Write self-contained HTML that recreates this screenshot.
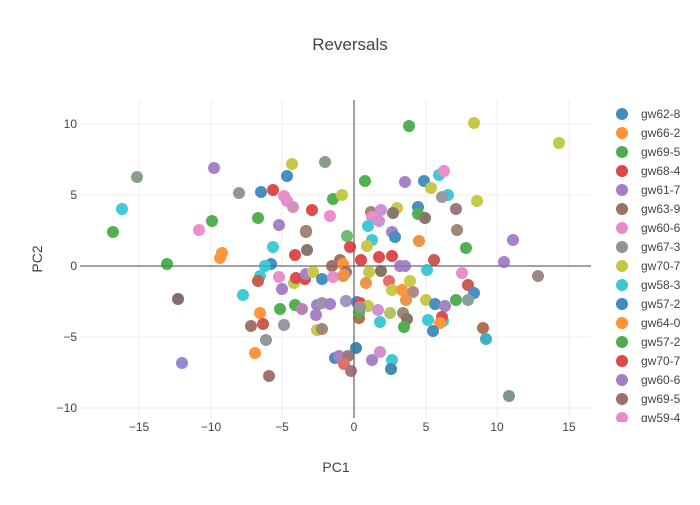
<!DOCTYPE html>
<html><head><style>
body{margin:0;background:#fff;font-family:"Liberation Sans",sans-serif;}
svg text{font-family:"Liberation Sans",sans-serif;}
</style></head><body>
<svg width="700" height="500" xmlns="http://www.w3.org/2000/svg">
<rect width="700" height="500" fill="#fff"/>
<g stroke="#eee" stroke-width="1">
<line x1="139" y1="100" x2="139" y2="418"/><line x1="211" y1="100" x2="211" y2="418"/>
<line x1="282" y1="100" x2="282" y2="418"/><line x1="426" y1="100" x2="426" y2="418"/>
<line x1="497" y1="100" x2="497" y2="418"/><line x1="569" y1="100" x2="569" y2="418"/>
<line x1="80" y1="124" x2="591" y2="124"/><line x1="80" y1="195" x2="591" y2="195"/>
<line x1="80" y1="337" x2="591" y2="337"/><line x1="80" y1="408" x2="591" y2="408"/>
</g>
<line x1="80" y1="266" x2="591" y2="266" stroke="#444" stroke-width="1"/>
<line x1="354" y1="100" x2="354" y2="418" stroke="#444" stroke-width="1"/>
<g opacity="0.82">
<circle cx="137" cy="177" r="6" fill="#6e8a6e"/><circle cx="122" cy="209" r="6" fill="#17becf"/>
<circle cx="113" cy="232" r="6" fill="#2ca02c"/><circle cx="214" cy="168" r="6" fill="#9467bd"/>
<circle cx="239" cy="193" r="6" fill="#7f7f7f"/><circle cx="261" cy="192" r="6" fill="#1f77b4"/>
<circle cx="273" cy="190" r="6" fill="#d62728"/><circle cx="284" cy="196" r="6" fill="#e377c2"/>
<circle cx="287" cy="201" r="6" fill="#e377c2"/><circle cx="293" cy="207" r="6" fill="#c87ab0"/>
<circle cx="312" cy="210" r="6" fill="#d62728"/><circle cx="330" cy="216" r="6" fill="#e377c2"/>
<circle cx="292" cy="164" r="6" fill="#bcbd22"/><circle cx="287" cy="176" r="6" fill="#1f77b4"/>
<circle cx="325" cy="162" r="6" fill="#6e8a6e"/><circle cx="333" cy="199" r="6" fill="#2ca02c"/>
<circle cx="342" cy="195" r="6" fill="#bcbd22"/><circle cx="212" cy="221" r="6" fill="#2ca02c"/>
<circle cx="199" cy="230" r="6" fill="#e377c2"/><circle cx="258" cy="218" r="6" fill="#2ca02c"/>
<circle cx="279" cy="225" r="6" fill="#9467bd"/><circle cx="306" cy="231" r="6" fill="#d62728"/>
<circle cx="306" cy="232" r="6" fill="#8c6d5a"/><circle cx="347" cy="236" r="6" fill="#4caf50"/>
<circle cx="350" cy="247" r="6" fill="#d62728"/><circle cx="307" cy="250" r="6" fill="#6d5a50"/>
<circle cx="295" cy="255" r="6" fill="#d62728"/><circle cx="273" cy="247" r="6" fill="#17becf"/>
<circle cx="167" cy="264" r="6" fill="#2ca02c"/><circle cx="222" cy="253" r="6" fill="#ff7f0e"/>
<circle cx="220" cy="258" r="6" fill="#ff7f0e"/><circle cx="271" cy="264" r="6" fill="#1f77b4"/>
<circle cx="265" cy="266" r="6" fill="#17becf"/><circle cx="340" cy="260" r="6" fill="#8c564b"/>
<circle cx="332" cy="266" r="6" fill="#8c564b"/><circle cx="343" cy="264" r="6" fill="#ff7f0e"/>
<circle cx="409" cy="126" r="6" fill="#2ca02c"/><circle cx="474" cy="123" r="6" fill="#bcbd22"/>
<circle cx="559" cy="143" r="6" fill="#bcbd22"/><circle cx="365" cy="181" r="6" fill="#2ca02c"/>
<circle cx="405" cy="182" r="6" fill="#9467bd"/><circle cx="439" cy="175" r="6" fill="#17becf"/>
<circle cx="424" cy="181" r="6" fill="#1f77b4"/><circle cx="444" cy="171" r="6" fill="#e377c2"/>
<circle cx="431" cy="188" r="6" fill="#bcbd22"/><circle cx="448" cy="195" r="6" fill="#17becf"/>
<circle cx="442" cy="197" r="6" fill="#8a8090"/><circle cx="477" cy="201" r="6" fill="#bcbd22"/>
<circle cx="397" cy="208" r="6" fill="#bcbd22"/><circle cx="371" cy="212" r="6" fill="#8c6d5a"/>
<circle cx="381" cy="210" r="6" fill="#c87ac8"/><circle cx="393" cy="213" r="6" fill="#6d5a50"/>
<circle cx="418" cy="207" r="6" fill="#1f77b4"/><circle cx="418" cy="214" r="6" fill="#2ca02c"/>
<circle cx="372" cy="217" r="6" fill="#e377c2"/><circle cx="379" cy="221" r="6" fill="#c87ac8"/>
<circle cx="425" cy="218" r="6" fill="#6d5a50"/><circle cx="456" cy="209" r="6" fill="#8c5a60"/>
<circle cx="368" cy="226" r="6" fill="#17becf"/><circle cx="392" cy="232" r="6" fill="#9467bd"/>
<circle cx="395" cy="237" r="6" fill="#1f77b4"/><circle cx="457" cy="230" r="6" fill="#8c6d5a"/>
<circle cx="372" cy="240" r="6" fill="#17becf"/><circle cx="367" cy="246" r="6" fill="#bcbd22"/>
<circle cx="419" cy="241" r="6" fill="#e67e22"/><circle cx="466" cy="248" r="6" fill="#2ca02c"/>
<circle cx="513" cy="240" r="6" fill="#9467bd"/><circle cx="379" cy="257" r="6" fill="#d62728"/>
<circle cx="392" cy="256" r="6" fill="#d62728"/><circle cx="361" cy="260" r="6" fill="#d62728"/>
<circle cx="434" cy="260" r="6" fill="#c0392b"/><circle cx="504" cy="262" r="6" fill="#9467bd"/>
<circle cx="400" cy="266" r="6" fill="#9467bd"/><circle cx="405" cy="266" r="6" fill="#9467bd"/>
<circle cx="260" cy="276" r="6" fill="#17becf"/><circle cx="178" cy="299" r="6" fill="#6d4a4a"/>
<circle cx="243" cy="295" r="6" fill="#17becf"/><circle cx="258" cy="281" r="6" fill="#c0392b"/>
<circle cx="279" cy="277" r="6" fill="#e377c2"/><circle cx="282" cy="289" r="6" fill="#9467bd"/>
<circle cx="294" cy="283" r="6" fill="#bcbd22"/><circle cx="296" cy="278" r="6" fill="#d62728"/>
<circle cx="305" cy="279" r="6" fill="#d62728"/><circle cx="306" cy="274" r="6" fill="#9467bd"/>
<circle cx="313" cy="272" r="6" fill="#bcbd22"/><circle cx="322" cy="279" r="6" fill="#1f77b4"/>
<circle cx="333" cy="277" r="6" fill="#e377c2"/><circle cx="343" cy="276" r="6" fill="#e67e22"/>
<circle cx="346" cy="272" r="6" fill="#8c564b"/><circle cx="260" cy="313" r="6" fill="#ff7f0e"/>
<circle cx="280" cy="309" r="6" fill="#2ca02c"/><circle cx="295" cy="305" r="6" fill="#2ca02c"/>
<circle cx="302" cy="309" r="6" fill="#a86aa0"/><circle cx="317" cy="305" r="6" fill="#9467bd"/>
<circle cx="322" cy="303" r="6" fill="#8a8090"/><circle cx="330" cy="304" r="6" fill="#9467bd"/>
<circle cx="346" cy="301" r="6" fill="#9467bd"/><circle cx="316" cy="315" r="6" fill="#9467bd"/>
<circle cx="251" cy="326" r="6" fill="#8c564b"/><circle cx="263" cy="324" r="6" fill="#c0392b"/>
<circle cx="284" cy="325" r="6" fill="#8a8090"/><circle cx="317" cy="330" r="6" fill="#bcbd22"/>
<circle cx="322" cy="329" r="6" fill="#8c6d5a"/><circle cx="266" cy="340" r="6" fill="#7f7f7f"/>
<circle cx="255" cy="353" r="6" fill="#ff7f0e"/><circle cx="182" cy="363" r="6" fill="#7f6fc8"/>
<circle cx="269" cy="376" r="6" fill="#8c564b"/><circle cx="335" cy="358" r="6" fill="#1f77b4"/>
<circle cx="339" cy="356" r="6" fill="#9467bd"/><circle cx="348" cy="356" r="6" fill="#8c5a60"/>
<circle cx="344" cy="364" r="6" fill="#e05050"/><circle cx="351" cy="371" r="6" fill="#8c5a60"/>
<circle cx="369" cy="272" r="6" fill="#bcbd22"/><circle cx="381" cy="271" r="6" fill="#6d5a40"/>
<circle cx="427" cy="270" r="6" fill="#17becf"/><circle cx="462" cy="273" r="6" fill="#e377c2"/>
<circle cx="538" cy="276" r="6" fill="#8c6d6d"/><circle cx="344" cy="275" r="6" fill="#e67e22"/>
<circle cx="366" cy="283" r="6" fill="#e67e22"/><circle cx="389" cy="281" r="6" fill="#e05050"/>
<circle cx="410" cy="281" r="6" fill="#bcbd22"/><circle cx="392" cy="290" r="6" fill="#bcbd22"/>
<circle cx="402" cy="290" r="6" fill="#ff7f0e"/><circle cx="413" cy="292" r="6" fill="#a07070"/>
<circle cx="468" cy="285" r="6" fill="#c0392b"/><circle cx="474" cy="293" r="6" fill="#1f77b4"/>
<circle cx="406" cy="300" r="6" fill="#e67e22"/><circle cx="346" cy="301" r="6" fill="#8a7fb8"/>
<circle cx="357" cy="302" r="6" fill="#1f77b4"/><circle cx="360" cy="303" r="6" fill="#d62728"/>
<circle cx="368" cy="306" r="6" fill="#bcbd22"/><circle cx="426" cy="300" r="6" fill="#bcbd22"/>
<circle cx="435" cy="304" r="6" fill="#1f77b4"/><circle cx="445" cy="306" r="6" fill="#9467bd"/>
<circle cx="456" cy="300" r="6" fill="#2ca02c"/><circle cx="468" cy="300" r="6" fill="#6e8a8a"/>
<circle cx="359" cy="318" r="6" fill="#a0522d"/><circle cx="359" cy="312" r="6" fill="#2ca02c"/>
<circle cx="360" cy="307" r="6" fill="#7f7f7f"/><circle cx="378" cy="310" r="6" fill="#c87ac8"/>
<circle cx="390" cy="313" r="6" fill="#a8b840"/><circle cx="403" cy="313" r="6" fill="#8c6d5a"/>
<circle cx="407" cy="319" r="6" fill="#6d5a40"/><circle cx="380" cy="322" r="6" fill="#17becf"/>
<circle cx="428" cy="320" r="6" fill="#17becf"/><circle cx="443" cy="321" r="6" fill="#17becf"/>
<circle cx="442" cy="317" r="6" fill="#d62728"/><circle cx="440" cy="323" r="6" fill="#ff7f0e"/>
<circle cx="404" cy="327" r="6" fill="#2ca02c"/><circle cx="433" cy="331" r="6" fill="#1f77b4"/>
<circle cx="483" cy="328" r="6" fill="#a0522d"/><circle cx="486" cy="339" r="6" fill="#17a0b8"/>
<circle cx="356" cy="348" r="6" fill="#1f6f9f"/><circle cx="372" cy="360" r="6" fill="#9467bd"/>
<circle cx="380" cy="352" r="6" fill="#c87ac8"/><circle cx="392" cy="360" r="6" fill="#17becf"/>
<circle cx="391" cy="369" r="6" fill="#1f6f9f"/><circle cx="509" cy="396" r="6" fill="#5f7f7f"/>
</g>
<g font-size="12" fill="#444" text-anchor="middle">
<text x="139" y="431">−15</text><text x="211" y="431">−10</text><text x="282" y="431">−5</text>
<text x="354" y="431">0</text><text x="426" y="431">5</text><text x="497" y="431">10</text><text x="569" y="431">15</text>
</g>
<g font-size="12" fill="#444" text-anchor="end">
<text x="77" y="128">10</text><text x="77" y="199">5</text><text x="77" y="270">0</text>
<text x="77" y="341">−5</text><text x="77" y="412">−10</text>
</g>
<text x="350" y="50" font-size="17" fill="#444" text-anchor="middle">Reversals</text>
<text x="336" y="472" font-size="14" fill="#444" text-anchor="middle">PC1</text>
<text x="42" y="259" font-size="14" fill="#444" text-anchor="middle" transform="rotate(-90 42 259)">PC2</text>
<defs><clipPath id="lc"><rect x="600" y="100" width="100" height="322"/></clipPath></defs>
<g clip-path="url(#lc)" font-size="12" fill="#444">
<g opacity="0.85">
<circle cx="622" cy="114" r="6" fill="#1f77b4"/><circle cx="622" cy="133" r="6" fill="#ff7f0e"/>
<circle cx="622" cy="152" r="6" fill="#2ca02c"/><circle cx="622" cy="171" r="6" fill="#d62728"/>
<circle cx="622" cy="190" r="6" fill="#9467bd"/><circle cx="622" cy="209" r="6" fill="#8c564b"/>
<circle cx="622" cy="228" r="6" fill="#e377c2"/><circle cx="622" cy="247" r="6" fill="#7f7f7f"/>
<circle cx="622" cy="266" r="6" fill="#bcbd22"/><circle cx="622" cy="285" r="6" fill="#17becf"/>
<circle cx="622" cy="304" r="6" fill="#1f77b4"/><circle cx="622" cy="323" r="6" fill="#ff7f0e"/>
<circle cx="622" cy="342" r="6" fill="#2ca02c"/><circle cx="622" cy="361" r="6" fill="#d62728"/>
<circle cx="622" cy="380" r="6" fill="#9467bd"/><circle cx="622" cy="399" r="6" fill="#8c564b"/>
<circle cx="622" cy="418" r="6" fill="#e377c2"/>
</g>
<text x="641" y="118">gw62-8</text><text x="641" y="137">gw66-2</text><text x="641" y="156">gw69-5</text>
<text x="641" y="175">gw68-4</text><text x="641" y="194">gw61-7</text><text x="641" y="213">gw63-9</text>
<text x="641" y="232">gw60-6</text><text x="641" y="251">gw67-3</text><text x="641" y="270">gw70-7</text>
<text x="641" y="289">gw58-3</text><text x="641" y="308">gw57-2</text><text x="641" y="327">gw64-0</text>
<text x="641" y="346">gw57-2</text><text x="641" y="365">gw70-7</text><text x="641" y="384">gw60-6</text>
<text x="641" y="403">gw69-5</text><text x="641" y="422">gw59-4</text>
</g>
</svg>
</body></html>
